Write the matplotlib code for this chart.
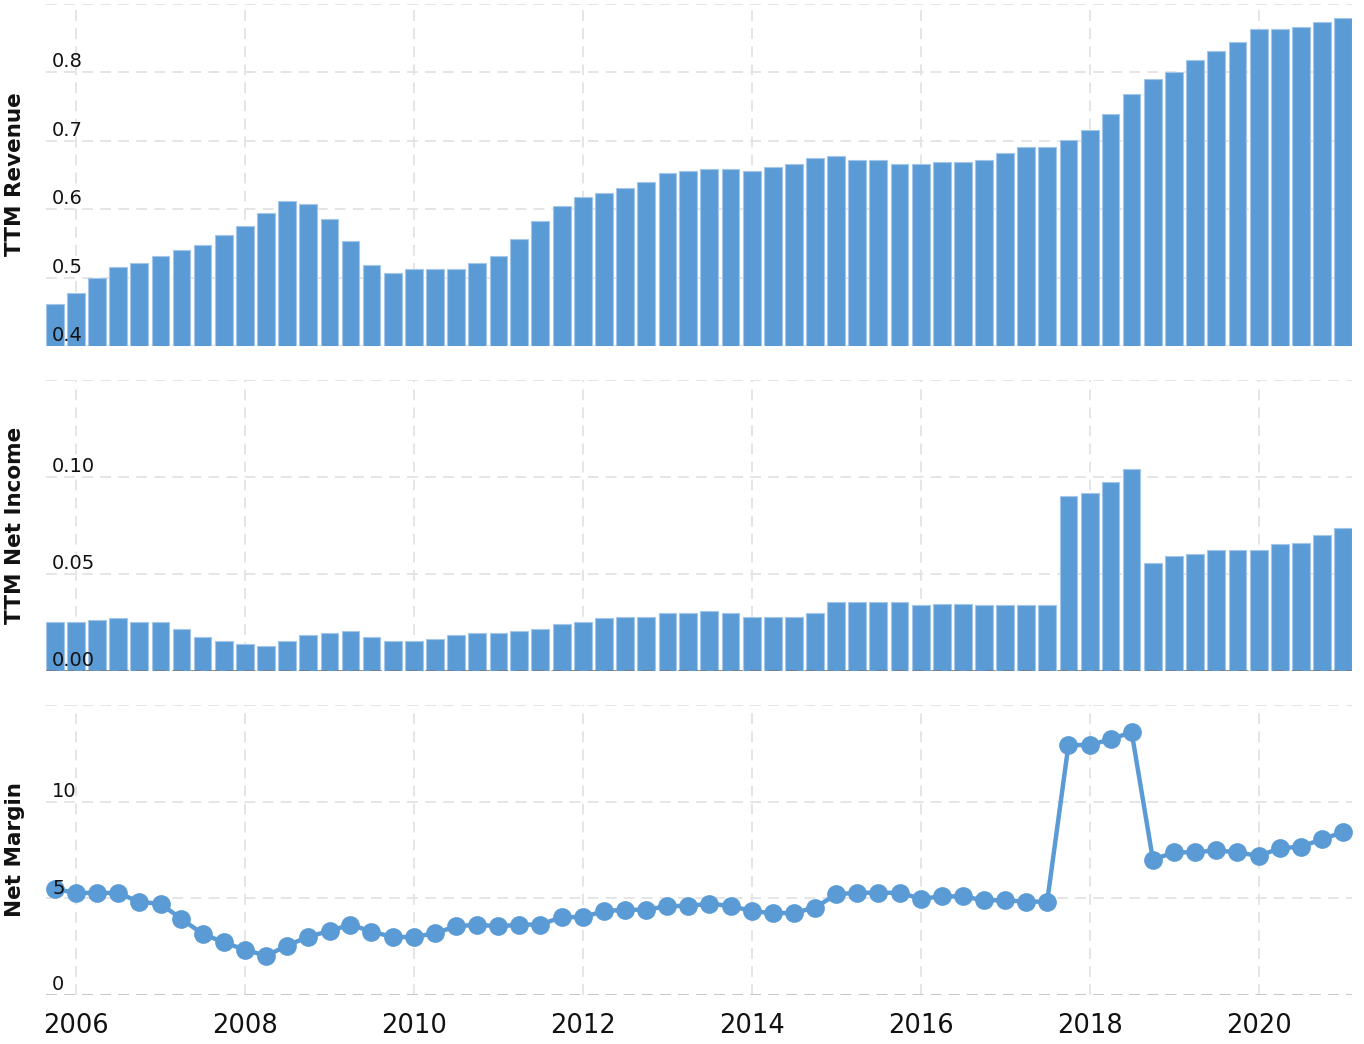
import numpy as np
import pandas as pd
import matplotlib
matplotlib.use("Agg")
import matplotlib.pyplot as plt
import matplotlib.transforms as mtransforms

plt.rcParams['font.family'] = ['DejaVu Sans']

# Quarter-end dates (2005 Q3 .. 2020 Q4)
quarter_ends = pd.date_range('2005-09-30', '2020-12-31', freq='QE')

ttm_revenue = [0.462, 0.478, 0.500, 0.516, 0.521, 0.532, 0.540, 0.548, 0.562, 0.575,
               0.594, 0.612, 0.607, 0.585, 0.553, 0.518, 0.507, 0.513, 0.513, 0.513,
               0.521, 0.532, 0.556, 0.583, 0.604, 0.618, 0.623, 0.631, 0.639, 0.653,
               0.655, 0.658, 0.658, 0.655, 0.661, 0.666, 0.674, 0.677, 0.671, 0.671,
               0.666, 0.666, 0.669, 0.669, 0.671, 0.682, 0.690, 0.690, 0.701, 0.715,
               0.739, 0.768, 0.790, 0.800, 0.817, 0.831, 0.844, 0.863, 0.863, 0.866,
               0.873, 0.879]

ttm_net_income = [0.0253, 0.0253, 0.0261, 0.0271, 0.0253, 0.0253, 0.0215, 0.0175, 0.0156, 0.0137,
                  0.0127, 0.0156, 0.0186, 0.0194, 0.0204, 0.0175, 0.0156, 0.0156, 0.0167, 0.0186,
                  0.0194, 0.0194, 0.0204, 0.0215, 0.0242, 0.0253, 0.0271, 0.0280, 0.0280, 0.0299,
                  0.0299, 0.0309, 0.0299, 0.0280, 0.0280, 0.0280, 0.0299, 0.0357, 0.0357, 0.0357,
                  0.0357, 0.0338, 0.0347, 0.0347, 0.0338, 0.0338, 0.0338, 0.0338, 0.0900, 0.0919,
                  0.0976, 0.1043, 0.0557, 0.0595, 0.0605, 0.0624, 0.0624, 0.0624, 0.0653, 0.0662,
                  0.0701, 0.0739]

net_margin = [5.48, 5.28, 5.28, 5.28, 4.81, 4.72, 3.93, 3.17, 2.72, 2.34,
              2.03, 2.55, 3.02, 3.31, 3.64, 3.28, 3.00, 3.00, 3.19, 3.55,
              3.64, 3.55, 3.64, 3.64, 4.03, 4.03, 4.34, 4.41, 4.41, 4.59,
              4.62, 4.71, 4.62, 4.33, 4.24, 4.24, 4.52, 5.21, 5.29, 5.29,
              5.29, 4.98, 5.10, 5.10, 4.90, 4.90, 4.83, 4.83, 12.93, 12.93,
              13.22, 13.60, 7.00, 7.38, 7.38, 7.48, 7.38, 7.19, 7.59, 7.67,
              8.05, 8.43]

year_ticks = [2006, 2008, 2010, 2012, 2014, 2016, 2018, 2020]
rev_ticks = [0.4, 0.5, 0.6, 0.7, 0.8, 0.9]
rev_labels = ['0.4', '0.5', '0.6', '0.7', '0.8', '']
ni_ticks = [0.00, 0.05, 0.10, 0.15]
ni_labels = ['0.00', '0.05', '0.10', '']
nm_ticks = [0, 5, 10, 15]
nm_labels = ['0', '5', '10', '']

x = np.array([d.year + (d.dayofyear) / (366 if d.is_leap_year else 365) for d in quarter_ends])

BLUE = '#5b9bd5'
EDGE = '#a3c6ea'
GRID = '#e3e3e3'

W, H = 1364, 1044
fig = plt.figure(figsize=(W / 100, H / 100), dpi=100)

left = 46 / W
width = (1352 - 46) / W

def make_ax(top_px, bot_px):
    return fig.add_axes([left, 1 - bot_px / H, width, (bot_px - top_px) / H])

ax1 = make_ax(3.5, 346)
ax2 = make_ax(380, 671)
ax3 = make_ax(705, 995)

bw = 0.21
xlim = (x[0] - 0.105, x[-1] + 0.105)

def style(ax, ticks, labels, ylim):
    ax.set_xlim(*xlim)
    ax.set_ylim(*ylim)
    for s in ax.spines.values():
        s.set_visible(False)
    ax.set_yticks(ticks)
    ax.set_yticklabels([])
    ax.set_xticks(year_ticks)
    ax.tick_params(length=0)
    ax.grid(True, color=GRID, linestyle=(0, (6, 4)), linewidth=1.3)
    ax.set_axisbelow(True)
    trans = mtransforms.blended_transform_factory(ax.transAxes, ax.transData)
    offset = mtransforms.ScaledTranslation(0, 0.5 / 72, fig.dpi_scale_trans)
    for t, lab in zip(ticks, labels):
        if lab:
            ax.text(6 / (1352 - 46), t, lab, transform=trans + offset, ha='left', va='bottom',
                    fontsize=14, color='#111111', zorder=10)

style(ax1, rev_ticks, rev_labels, (0.4, 0.9))
style(ax2, ni_ticks, ni_labels, (0.0, 0.15))
style(ax3, nm_ticks, nm_labels, (0, 15))

ax1.bar(x, ttm_revenue, width=bw, color=BLUE, edgecolor=EDGE, linewidth=0.8, zorder=2)
ax2.bar(x, ttm_net_income, width=bw, color=BLUE, edgecolor=EDGE, linewidth=0.8, zorder=2)
ax2.axhline(0, color='#777777', linestyle=(0, (6, 4)), linewidth=1.3, alpha=0.8, zorder=3)

ax3.axhline(0, color='#c4c4c4', linestyle=(0, (6, 4)), linewidth=1.3, zorder=1)
ax3.plot(x, net_margin, color=BLUE, linewidth=3.2, marker='o', markersize=13.5,
         markeredgewidth=0, zorder=4, clip_on=False)

ax1.set_xticklabels([])
ax2.set_xticklabels([])
ax3.set_xticklabels([str(y) for y in year_ticks], fontsize=18.5, color='#111111')
ax3.tick_params(axis='x', pad=13)

for label, ycen in [('TTM Revenue', 174.5), ('TTM Net Income', 525.5), ('Net Margin', 850)]:
    fig.text(15 / W, 1 - ycen / H, label, rotation=90, ha='center', va='center',
             fontsize=15.5, fontweight='bold', color='#111111')

fig.savefig('out.png', dpi=100, facecolor='white')
